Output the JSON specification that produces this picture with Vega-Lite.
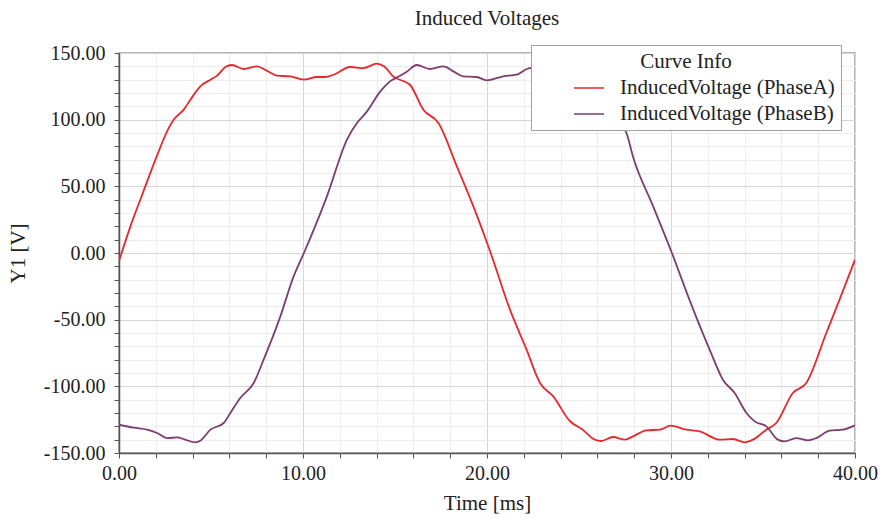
{
  "$schema": "https://vega.github.io/schema/vega-lite/v6.json",
  "width": 736,
  "height": 400,
  "autosize": {"type": "none"},
  "padding": {"left": 119, "top": 53, "right": 26, "bottom": 66},
  "background": "white",
  "title": {"text": "Induced Voltages", "font": "Liberation Serif", "fontSize": 21, "fontWeight": "normal", "color": "#222222", "anchor": "middle", "frame": "group", "offset": 14},
  "config": {"view": {"stroke": "#a0a0a0", "strokeWidth": 1.5}},
  "datasets": {
    "curves": [
      {"t": 0, "v": -6, "s": "InducedVoltage (PhaseA)"},
      {"t": 0.62, "v": 20, "s": "InducedVoltage (PhaseA)"},
      {"t": 1.26, "v": 43.7, "s": "InducedVoltage (PhaseA)"},
      {"t": 1.98, "v": 70, "s": "InducedVoltage (PhaseA)"},
      {"t": 2.7, "v": 93.7, "s": "InducedVoltage (PhaseA)"},
      {"t": 2.97, "v": 100, "s": "InducedVoltage (PhaseA)"},
      {"t": 3.52, "v": 107.5, "s": "InducedVoltage (PhaseA)"},
      {"t": 3.88, "v": 115, "s": "InducedVoltage (PhaseA)"},
      {"t": 4.42, "v": 125, "s": "InducedVoltage (PhaseA)"},
      {"t": 4.97, "v": 130, "s": "InducedVoltage (PhaseA)"},
      {"t": 5.33, "v": 133, "s": "InducedVoltage (PhaseA)"},
      {"t": 5.78, "v": 139.5, "s": "InducedVoltage (PhaseA)"},
      {"t": 6.14, "v": 141, "s": "InducedVoltage (PhaseA)"},
      {"t": 6.77, "v": 138, "s": "InducedVoltage (PhaseA)"},
      {"t": 7.5, "v": 140, "s": "InducedVoltage (PhaseA)"},
      {"t": 8.0, "v": 137, "s": "InducedVoltage (PhaseA)"},
      {"t": 8.59, "v": 133, "s": "InducedVoltage (PhaseA)"},
      {"t": 9.3, "v": 132.5, "s": "InducedVoltage (PhaseA)"},
      {"t": 10.03, "v": 130, "s": "InducedVoltage (PhaseA)"},
      {"t": 10.76, "v": 132, "s": "InducedVoltage (PhaseA)"},
      {"t": 11.2, "v": 132, "s": "InducedVoltage (PhaseA)"},
      {"t": 11.66, "v": 133.7, "s": "InducedVoltage (PhaseA)"},
      {"t": 12.56, "v": 139.5, "s": "InducedVoltage (PhaseA)"},
      {"t": 13.29, "v": 138.7, "s": "InducedVoltage (PhaseA)"},
      {"t": 14.01, "v": 142, "s": "InducedVoltage (PhaseA)"},
      {"t": 14.4, "v": 140, "s": "InducedVoltage (PhaseA)"},
      {"t": 14.9, "v": 132.5, "s": "InducedVoltage (PhaseA)"},
      {"t": 15.82, "v": 126, "s": "InducedVoltage (PhaseA)"},
      {"t": 16.54, "v": 107.5, "s": "InducedVoltage (PhaseA)"},
      {"t": 17.36, "v": 97.5, "s": "InducedVoltage (PhaseA)"},
      {"t": 18.36, "v": 65, "s": "InducedVoltage (PhaseA)"},
      {"t": 19.26, "v": 35, "s": "InducedVoltage (PhaseA)"},
      {"t": 20.2, "v": 0, "s": "InducedVoltage (PhaseA)"},
      {"t": 21.25, "v": -42.5, "s": "InducedVoltage (PhaseA)"},
      {"t": 22.15, "v": -72.5, "s": "InducedVoltage (PhaseA)"},
      {"t": 22.88, "v": -97.5, "s": "InducedVoltage (PhaseA)"},
      {"t": 23.6, "v": -107.5, "s": "InducedVoltage (PhaseA)"},
      {"t": 24.5, "v": -126, "s": "InducedVoltage (PhaseA)"},
      {"t": 25.2, "v": -132.5, "s": "InducedVoltage (PhaseA)"},
      {"t": 25.86, "v": -140, "s": "InducedVoltage (PhaseA)"},
      {"t": 26.2, "v": -141, "s": "InducedVoltage (PhaseA)"},
      {"t": 26.85, "v": -138, "s": "InducedVoltage (PhaseA)"},
      {"t": 27.5, "v": -140, "s": "InducedVoltage (PhaseA)"},
      {"t": 27.94, "v": -137.5, "s": "InducedVoltage (PhaseA)"},
      {"t": 28.67, "v": -133, "s": "InducedVoltage (PhaseA)"},
      {"t": 29.4, "v": -132.5, "s": "InducedVoltage (PhaseA)"},
      {"t": 29.97, "v": -129.5, "s": "InducedVoltage (PhaseA)"},
      {"t": 30.84, "v": -132.5, "s": "InducedVoltage (PhaseA)"},
      {"t": 31.56, "v": -133.8, "s": "InducedVoltage (PhaseA)"},
      {"t": 32.65, "v": -140, "s": "InducedVoltage (PhaseA)"},
      {"t": 33.37, "v": -139.5, "s": "InducedVoltage (PhaseA)"},
      {"t": 34.0, "v": -142, "s": "InducedVoltage (PhaseA)"},
      {"t": 34.45, "v": -140, "s": "InducedVoltage (PhaseA)"},
      {"t": 35.18, "v": -132.5, "s": "InducedVoltage (PhaseA)"},
      {"t": 35.72, "v": -127.5, "s": "InducedVoltage (PhaseA)"},
      {"t": 36.62, "v": -105, "s": "InducedVoltage (PhaseA)"},
      {"t": 37.35, "v": -97.5, "s": "InducedVoltage (PhaseA)"},
      {"t": 38.44, "v": -60, "s": "InducedVoltage (PhaseA)"},
      {"t": 39.16, "v": -35, "s": "InducedVoltage (PhaseA)"},
      {"t": 40, "v": -5, "s": "InducedVoltage (PhaseA)"},
      {"t": 0, "v": -128.8, "s": "InducedVoltage (PhaseB)"},
      {"t": 0.8, "v": -131, "s": "InducedVoltage (PhaseB)"},
      {"t": 1.53, "v": -132.5, "s": "InducedVoltage (PhaseB)"},
      {"t": 2.07, "v": -135, "s": "InducedVoltage (PhaseB)"},
      {"t": 2.62, "v": -138.8, "s": "InducedVoltage (PhaseB)"},
      {"t": 3.16, "v": -138.3, "s": "InducedVoltage (PhaseB)"},
      {"t": 3.6, "v": -140, "s": "InducedVoltage (PhaseB)"},
      {"t": 4.15, "v": -142, "s": "InducedVoltage (PhaseB)"},
      {"t": 4.42, "v": -140.8, "s": "InducedVoltage (PhaseB)"},
      {"t": 4.97, "v": -132.5, "s": "InducedVoltage (PhaseB)"},
      {"t": 5.69, "v": -127.5, "s": "InducedVoltage (PhaseB)"},
      {"t": 6.05, "v": -120, "s": "InducedVoltage (PhaseB)"},
      {"t": 6.59, "v": -108.8, "s": "InducedVoltage (PhaseB)"},
      {"t": 7.32, "v": -97.5, "s": "InducedVoltage (PhaseB)"},
      {"t": 7.86, "v": -80, "s": "InducedVoltage (PhaseB)"},
      {"t": 8.77, "v": -47.5, "s": "InducedVoltage (PhaseB)"},
      {"t": 9.49, "v": -17.5, "s": "InducedVoltage (PhaseB)"},
      {"t": 10.05, "v": 0, "s": "InducedVoltage (PhaseB)"},
      {"t": 11.3, "v": 42.5, "s": "InducedVoltage (PhaseB)"},
      {"t": 12.39, "v": 85, "s": "InducedVoltage (PhaseB)"},
      {"t": 12.93, "v": 97.5, "s": "InducedVoltage (PhaseB)"},
      {"t": 13.47, "v": 106, "s": "InducedVoltage (PhaseB)"},
      {"t": 14.19, "v": 121, "s": "InducedVoltage (PhaseB)"},
      {"t": 14.73, "v": 128.7, "s": "InducedVoltage (PhaseB)"},
      {"t": 15.28, "v": 133, "s": "InducedVoltage (PhaseB)"},
      {"t": 15.64, "v": 136, "s": "InducedVoltage (PhaseB)"},
      {"t": 16.18, "v": 141, "s": "InducedVoltage (PhaseB)"},
      {"t": 16.9, "v": 138, "s": "InducedVoltage (PhaseB)"},
      {"t": 17.63, "v": 140, "s": "InducedVoltage (PhaseB)"},
      {"t": 18.2, "v": 136, "s": "InducedVoltage (PhaseB)"},
      {"t": 18.71, "v": 132.5, "s": "InducedVoltage (PhaseB)"},
      {"t": 19.44, "v": 132, "s": "InducedVoltage (PhaseB)"},
      {"t": 19.98, "v": 129.5, "s": "InducedVoltage (PhaseB)"},
      {"t": 20.88, "v": 132.5, "s": "InducedVoltage (PhaseB)"},
      {"t": 21.61, "v": 133.7, "s": "InducedVoltage (PhaseB)"},
      {"t": 22.33, "v": 138.7, "s": "InducedVoltage (PhaseB)"},
      {"t": 23.1, "v": 138.5, "s": "InducedVoltage (PhaseB)"},
      {"t": 23.9, "v": 142, "s": "InducedVoltage (PhaseB)"},
      {"t": 24.3, "v": 140, "s": "InducedVoltage (PhaseB)"},
      {"t": 24.8, "v": 132.5, "s": "InducedVoltage (PhaseB)"},
      {"t": 25.7, "v": 126, "s": "InducedVoltage (PhaseB)"},
      {"t": 26.45, "v": 107.5, "s": "InducedVoltage (PhaseB)"},
      {"t": 27.26, "v": 97.5, "s": "InducedVoltage (PhaseB)"},
      {"t": 27.58, "v": 90, "s": "InducedVoltage (PhaseB)"},
      {"t": 27.94, "v": 72, "s": "InducedVoltage (PhaseB)"},
      {"t": 29.03, "v": 35, "s": "InducedVoltage (PhaseB)"},
      {"t": 30.05, "v": 0, "s": "InducedVoltage (PhaseB)"},
      {"t": 31.0, "v": -35, "s": "InducedVoltage (PhaseB)"},
      {"t": 32.1, "v": -72.5, "s": "InducedVoltage (PhaseB)"},
      {"t": 32.82, "v": -95, "s": "InducedVoltage (PhaseB)"},
      {"t": 33.46, "v": -105, "s": "InducedVoltage (PhaseB)"},
      {"t": 34.1, "v": -120, "s": "InducedVoltage (PhaseB)"},
      {"t": 34.55, "v": -126.3, "s": "InducedVoltage (PhaseB)"},
      {"t": 35.18, "v": -130, "s": "InducedVoltage (PhaseB)"},
      {"t": 35.81, "v": -140, "s": "InducedVoltage (PhaseB)"},
      {"t": 36.17, "v": -141.3, "s": "InducedVoltage (PhaseB)"},
      {"t": 36.8, "v": -138.8, "s": "InducedVoltage (PhaseB)"},
      {"t": 37.44, "v": -140.5, "s": "InducedVoltage (PhaseB)"},
      {"t": 37.89, "v": -138.8, "s": "InducedVoltage (PhaseB)"},
      {"t": 38.62, "v": -133.3, "s": "InducedVoltage (PhaseB)"},
      {"t": 39.34, "v": -132.5, "s": "InducedVoltage (PhaseB)"},
      {"t": 40, "v": -129.3, "s": "InducedVoltage (PhaseB)"}
    ]
  },
  "data": {"name": "curves"},
  "mark": {"type": "line", "strokeWidth": 1.8, "interpolate": "monotone", "clip": true},
  "encoding": {
    "x": {
      "field": "t", "type": "quantitative",
      "scale": {"domain": [0, 40], "nice": false, "zero": false},
      "axis": {
        "values": [0, 2, 4, 6, 8, 10, 12, 14, 16, 18, 20, 22, 24, 26, 28, 30, 32, 34, 36, 38, 40],
        "labelExpr": "datum.value % 10 === 0 ? format(datum.value, '.2f') : ''",
        "labelOverlap": false, "labelFlush": false,
        "title": "Time [ms]",
        "grid": true,
        "gridColor": {"condition": {"test": "datum.value % 10 === 0", "value": "#d6d6d6"}, "value": "#ededed"},
        "gridWidth": 1,
        "domainColor": "#555555", "domainWidth": 1.5,
        "tickColor": "#555555", "tickSize": 5, "tickWidth": 1,
        "labelFont": "Liberation Serif", "labelFontSize": 20, "labelColor": "#222222", "labelPadding": 5,
        "titleFont": "Liberation Serif", "titleFontSize": 21, "titleFontWeight": "normal", "titleColor": "#222222", "titlePadding": 9
      }
    },
    "y": {
      "field": "v", "type": "quantitative",
      "scale": {"domain": [-150, 150], "nice": false, "zero": false},
      "axis": {
        "values": [-150, -140, -130, -120, -110, -100, -90, -80, -70, -60, -50, -40, -30, -20, -10, 0, 10, 20, 30, 40, 50, 60, 70, 80, 90, 100, 110, 120, 130, 140, 150],
        "labelExpr": "datum.value % 50 === 0 ? replace(format(datum.value, '.2f'), '\u2212', '-') : ''",
        "labelOverlap": false, "labelFlush": false,
        "title": "Y1 [V]",
        "grid": true,
        "gridColor": {"condition": {"test": "datum.value % 50 === 0", "value": "#d6d6d6"}, "value": "#ededed"},
        "gridWidth": 1,
        "domainColor": "#555555", "domainWidth": 1.5,
        "tickColor": "#555555", "tickSize": 5, "tickWidth": 1,
        "labelFont": "Liberation Serif", "labelFontSize": 20, "labelColor": "#222222", "labelPadding": 9,
        "titleFont": "Liberation Serif", "titleFontSize": 21, "titleFontWeight": "normal", "titleColor": "#222222", "titlePadding": 15
      }
    },
    "color": {
      "field": "s", "type": "nominal",
      "scale": {"domain": ["InducedVoltage (PhaseA)", "InducedVoltage (PhaseB)"], "range": ["#e8282c", "#7d3d6f"]},
      "legend": {
        "orient": "none", "legendX": 412, "legendY": -8,
        "title": "Curve Info",
        "titleFont": "Liberation Serif", "titleFontSize": 21, "titleFontWeight": "normal", "titleColor": "#222222",
        "titleAnchor": "middle", "titlePadding": 0,
        "labelFont": "Liberation Serif", "labelFontSize": 21, "labelColor": "#222222", "labelLimit": 500,
        "labelExpr": "datum.label + '\u2007\u2007\u2007\u2007'",
        "symbolType": "stroke", "symbolSize": 900, "symbolStrokeWidth": 1.5, "symbolOffset": 36,
        "labelOffset": 15,
        "fillColor": "white", "strokeColor": "#a0a0a0",
        "padding": 6, "rowPadding": 0
      }
    }
  }
}
